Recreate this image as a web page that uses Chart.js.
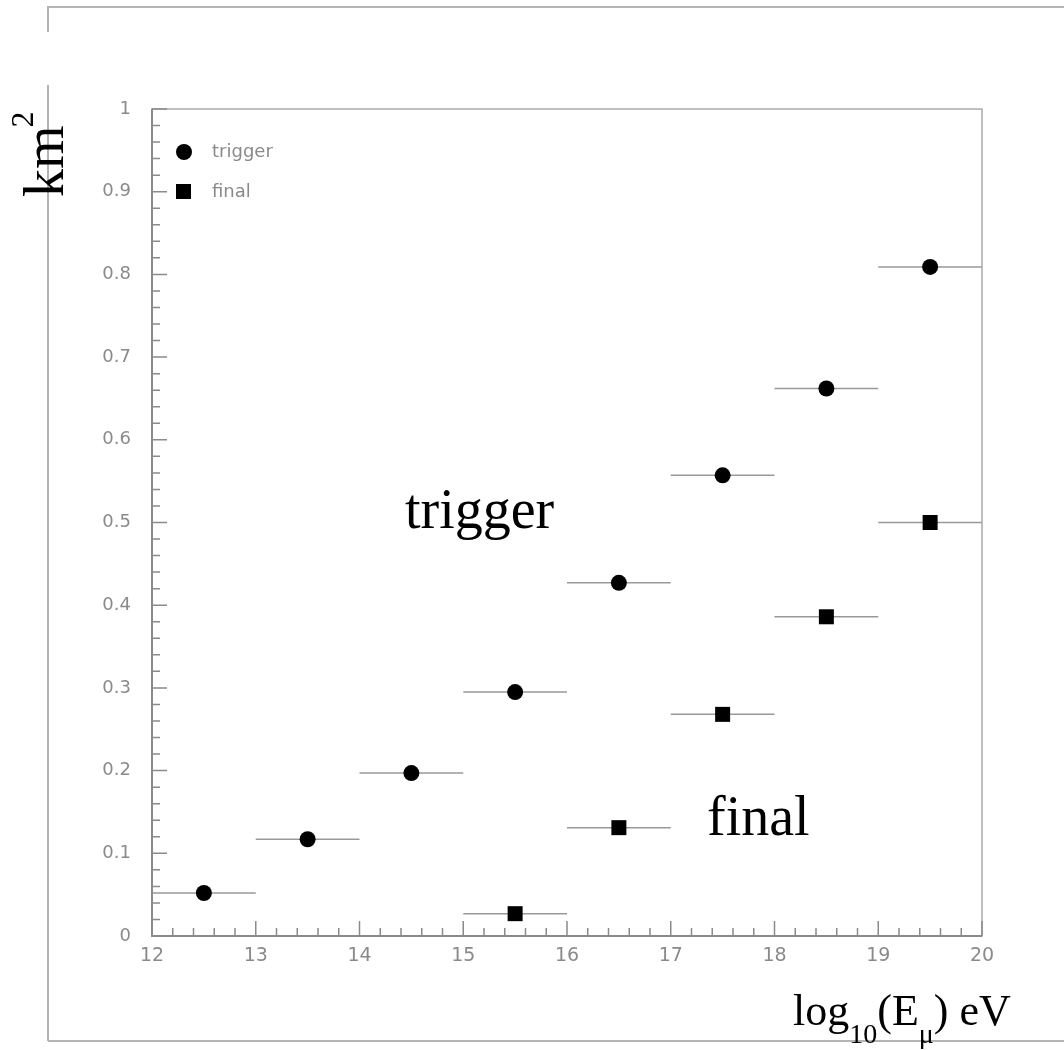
<!DOCTYPE html>
<html>
<head>
<meta charset="utf-8">
<script src="https://cdn.jsdelivr.net/npm/chart.js@4.4.0/dist/chart.umd.min.js"></script>
<style>
  body { margin: 0; background: #fff; }
  canvas { display: block; }
</style>
</head>
<body>
<canvas id="myChart" width="1064" height="1050"></canvas>
<script>
// Effective area per energy bin
var binCenters = [12.5, 13.5, 14.5, 15.5, 16.5, 17.5, 18.5, 19.5];
var binHalfWidth = 0.5;
var triggerValues = [0.052, 0.117, 0.197, 0.295, 0.427, 0.557, 0.662, 0.809];
var finalValues = [null, null, 0.0, 0.027, 0.131, 0.268, 0.386, 0.500];
var seriesNames = ['trigger', 'final'];

var axisColor = '#8a8a8a';

function toPoints(values) {
    var pts = [];
    for (var i = 0; i < binCenters.length; i++) {
        if (values[i] !== null) pts.push({x: binCenters[i], y: values[i]});
    }
    return pts;
}

// Frame, error bars, axis box with inward ticks, legend and labels
var decorations = {
    id: 'decorations',
    beforeDraw: function(chart) {
        var ctx = chart.ctx;
        ctx.save();
        ctx.fillStyle = '#fff';
        ctx.fillRect(0, 0, chart.width, chart.height);
        ctx.strokeStyle = '#b4b4b4';
        ctx.lineWidth = 2;
        ctx.beginPath();
        ctx.moveTo(48, 7); ctx.lineTo(1064, 7);
        ctx.moveTo(48, 6); ctx.lineTo(48, 32);
        ctx.moveTo(48, 85); ctx.lineTo(48, 1041);
        ctx.moveTo(48, 1041); ctx.lineTo(1064, 1041);
        ctx.stroke();
        ctx.restore();
    },
    beforeDatasetsDraw: function(chart) {
        var ctx = chart.ctx;
        var xs = chart.scales.x, ys = chart.scales.y;
        ctx.save();
        ctx.strokeStyle = '#999';
        ctx.lineWidth = 1.5;
        [triggerValues, finalValues].forEach(function(values) {
            for (var i = 0; i < binCenters.length; i++) {
                if (values[i] === null) continue;
                var y = ys.getPixelForValue(values[i]);
                ctx.beginPath();
                ctx.moveTo(xs.getPixelForValue(binCenters[i] - binHalfWidth), y);
                ctx.lineTo(xs.getPixelForValue(binCenters[i] + binHalfWidth), y);
                ctx.stroke();
            }
        });
        ctx.restore();
    },
    afterDraw: function(chart) {
        var ctx = chart.ctx;
        var a = chart.chartArea;
        var xs = chart.scales.x, ys = chart.scales.y;
        ctx.save();

        // box
        ctx.strokeStyle = '#aaa';
        ctx.lineWidth = 1.5;
        ctx.strokeRect(a.left, a.top, a.right - a.left, a.bottom - a.top);
        ctx.strokeStyle = axisColor;
        ctx.lineWidth = 2;
        ctx.beginPath();
        ctx.moveTo(a.left, a.top); ctx.lineTo(a.left, a.bottom); ctx.lineTo(a.right, a.bottom);
        ctx.stroke();

        // inward ticks
        ctx.lineWidth = 1.5;
        ctx.beginPath();
        for (var i = 0; i <= 50; i++) {
            var py = ys.getPixelForValue(i * 0.02);
            var len = (i % 5 === 0) ? 15 : 8;
            ctx.moveTo(a.left, py); ctx.lineTo(a.left + len, py);
        }
        for (var j = 0; j <= 40; j++) {
            var px = xs.getPixelForValue(12 + j * 0.2);
            var lx = (j % 5 === 0) ? 15 : 8;
            ctx.moveTo(px, a.bottom); ctx.lineTo(px, a.bottom - lx);
        }
        ctx.stroke();

        // legend
        var lx0 = a.left + 32;
        ctx.fillStyle = '#000';
        ctx.beginPath();
        ctx.arc(lx0, 152, 8, 0, Math.PI * 2);
        ctx.fill();
        ctx.fillRect(lx0 - 8, 184, 15, 15);
        ctx.fillStyle = '#8a8a8a';
        ctx.font = '18px "DejaVu Sans"';
        ctx.textBaseline = 'middle';
        ctx.textAlign = 'left';
        ctx.fillText(seriesNames[0], 212, 152);
        ctx.fillText(seriesNames[1], 212, 192);

        // big labels
        ctx.fillStyle = '#000';
        ctx.textBaseline = 'alphabetic';
        ctx.font = '56px "Liberation Serif"';
        ctx.fillText('trigger', 405, 528);
        ctx.fillText('final', 707, 835);

        // y axis title km^2
        ctx.save();
        ctx.translate(63, 197);
        ctx.rotate(-Math.PI / 2);
        ctx.font = '56px "Liberation Serif"';
        ctx.fillText('km', 0, 0);
        var kmW = ctx.measureText('km').width;
        ctx.font = '32px "Liberation Serif"';
        ctx.fillText('2', kmW - 2, -30);
        ctx.restore();

        // x axis title log10(Eμ) eV
        var parts = [
            {t: 'log', size: 44, dy: 0},
            {t: '10', size: 28, dy: 18},
            {t: '(E', size: 44, dy: 0},
            {t: 'μ', size: 28, dy: 18},
            {t: ') eV', size: 44, dy: 0}
        ];
        var cx = 793;
        parts.forEach(function(p) {
            ctx.font = p.size + 'px "Liberation Serif"';
            ctx.fillText(p.t, cx, 1025 + p.dy);
            cx += ctx.measureText(p.t).width;
        });

        ctx.restore();
    }
};

function renderChart() {
    var ctx = document.getElementById('myChart').getContext('2d');
    var chart = new Chart(ctx, {
        type: 'scatter',
        data: {
            datasets: [{
                label: seriesNames[0],
                data: toPoints(triggerValues),
                pointStyle: 'circle',
                pointRadius: 8,
                backgroundColor: '#000',
                borderColor: '#000',
                borderWidth: 0
            }, {
                label: seriesNames[1],
                data: toPoints(finalValues),
                pointStyle: 'rect',
                pointRadius: function(c) {
                    var v = c.raw ? c.raw.y : 0;
                    return v > 0 ? 10.6 : 0;
                },
                backgroundColor: '#000',
                borderColor: '#000',
                borderWidth: 0
            }]
        },
        options: {
            responsive: false,
            animation: false,
            devicePixelRatio: 1,
            layout: { padding: { left: 0, top: 109, right: 82, bottom: 0 } },
            plugins: {
                legend: { display: false },
                tooltip: { enabled: false }
            },
            scales: {
                x: {
                    type: 'linear',
                    min: 12,
                    max: 20,
                    grid: { display: false, drawTicks: false },
                    border: { display: false },
                    ticks: { stepSize: 1, color: '#8a8a8a', font: { family: 'DejaVu Sans', size: 19 }, padding: 9 },
                    afterFit: function(scale) { scale.height = 114; }
                },
                y: {
                    min: 0,
                    max: 1,
                    grid: { display: false, drawTicks: false },
                    border: { display: false },
                    ticks: {
                        stepSize: 0.1,
                        color: '#8a8a8a',
                        font: { family: 'DejaVu Sans', size: 18 },
                        padding: 21,
                        callback: function(v) { return String(Math.round(v * 10) / 10); }
                    },
                    afterFit: function(scale) { scale.width = 152; }
                }
            }
        },
        plugins: [decorations]
    });
}
window.onload = renderChart;
</script>
</body>
</html>
